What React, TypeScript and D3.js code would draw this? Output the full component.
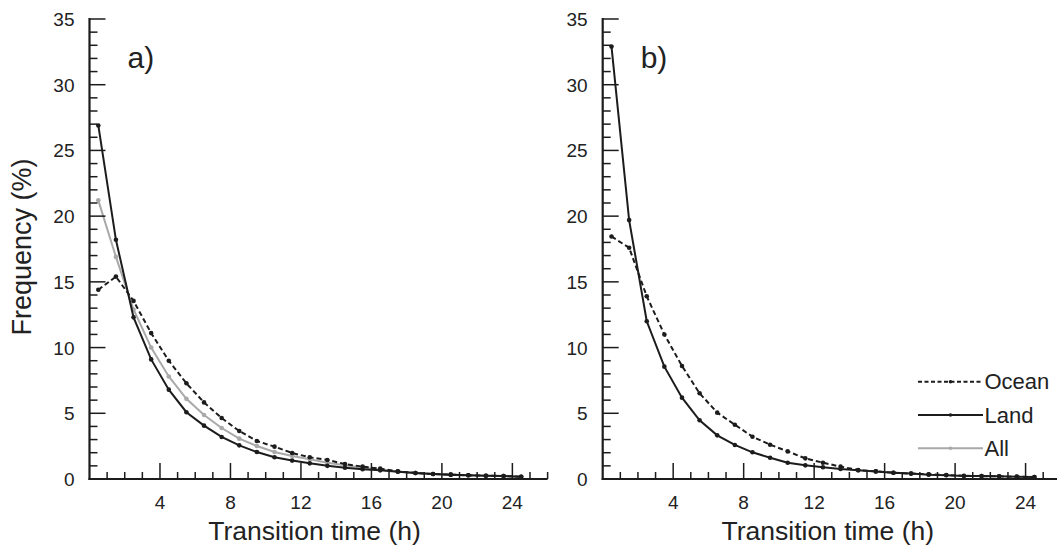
import React from "react";
import * as d3 from "d3";

const hours = [0.5, 1.5, 2.5, 3.5, 4.5, 5.5, 6.5, 7.5, 8.5, 9.5, 10.5, 11.5, 12.5, 13.5, 14.5, 15.5, 16.5, 17.5, 18.5, 19.5, 20.5, 21.5, 22.5, 23.5, 24.5];

const oceanA = [14.4, 15.4, 13.55, 11.1, 9.0, 7.28, 5.83, 4.64, 3.65, 2.89, 2.46, 1.98, 1.65, 1.45, 1.14, 0.94, 0.79, 0.58, 0.46, 0.38, 0.33, 0.28, 0.25, 0.23, 0.17];
const landA = [26.9, 18.2, 12.3, 9.1, 6.8, 5.08, 4.06, 3.2, 2.56, 2.05, 1.65, 1.4, 1.19, 1.0, 0.86, 0.74, 0.66, 0.56, 0.46, 0.38, 0.33, 0.28, 0.25, 0.23, 0.17];
const allA = [21.2, 16.9, 12.9, 10.0, 7.8, 6.1, 4.87, 3.88, 3.07, 2.51, 2.05, 1.75, 1.5, 1.24, 1.04, 0.86, 0.71, 0.57, 0.46, 0.38, 0.33, 0.28, 0.25, 0.23, 0.17];

const oceanB = [18.45, 17.6, 13.9, 11.0, 8.6, 6.52, 5.05, 4.13, 3.22, 2.61, 2.1, 1.57, 1.24, 0.94, 0.68, 0.58, 0.48, 0.41, 0.36, 0.3, 0.25, 0.22, 0.2, 0.17, 0.15];
const landB = [32.9, 19.7, 12.0, 8.55, 6.19, 4.47, 3.32, 2.59, 2.03, 1.62, 1.24, 1.04, 0.89, 0.76, 0.66, 0.58, 0.48, 0.41, 0.33, 0.28, 0.23, 0.22, 0.2, 0.18, 0.15];

const xTickLabels = [4, 8, 12, 16, 20, 24];
const yTickLabels = [0, 5, 10, 15, 20, 25, 30, 35];
const legendLabels = ["Ocean", "Land", "All"];

const FONT = "'Liberation Sans', Arial, Helvetica, sans-serif";
const BLACK = "#1c1c1c";
const GRAY = "#a9a9a9";
const DASH = "5,3";

type Series = { values: number[]; color: string; dash?: string };

function Panel({ x0, label, series }: { x0: number; label: string; series: Series[] }) {
  const x = d3.scaleLinear().domain([0, 26]).range([x0, x0 + 26 * 17.62]);
  const y = d3.scaleLinear().domain([0, 35]).range([479, 19]);
  const line = d3
    .line<number>()
    .x((_, i) => x(hours[i]))
    .y((d) => y(d));
  const minorX = d3.range(1, 27);
  const minorY = d3.range(1, 36);
  return (
    <g>
      {series.map((s, si) => (
        <g key={si}>
          <path d={line(s.values) || ""} fill="none" stroke={s.color} strokeWidth={2} strokeDasharray={s.dash} />
          {s.values.map((v, i) => (
            <circle key={i} cx={x(hours[i])} cy={y(v)} r={2.3} fill={s.color} />
          ))}
        </g>
      ))}
      {minorY.map((t) => (
        <line key={"ym" + t} x1={x(0)} x2={x(0) + (t % 5 === 0 ? 16 : 8)} y1={y(t)} y2={y(t)} stroke={BLACK} strokeWidth={1.5} />
      ))}
      {minorX.map((t) => (
        <line key={"xm" + t} x1={x(t)} x2={x(t)} y1={y(0)} y2={y(0) - (t % 4 === 0 ? 16 : 7)} stroke={BLACK} strokeWidth={1.5} />
      ))}
      <line x1={x(0)} x2={x(0)} y1={y(35) - 1} y2={y(0) + 1} stroke={BLACK} strokeWidth={2.2} />
      <line x1={x(0) - 1} x2={x(26)} y1={y(0)} y2={y(0)} stroke={BLACK} strokeWidth={2.2} />
      {yTickLabels.map((t) => (
        <text key={"yl" + t} x={x(0) - 15} y={y(t) + 7} textAnchor="end" fontSize={19} fontFamily={FONT} fill="#222">
          {t}
        </text>
      ))}
      {xTickLabels.map((t) => (
        <text key={"xl" + t} x={x(t)} y={509} textAnchor="middle" fontSize={19} fontFamily={FONT} fill="#222">
          {t}
        </text>
      ))}
      <text x={x(13) - 4} y={540} textAnchor="middle" fontSize={26.5} fontFamily={FONT} fill="#222">
        Transition time (h)
      </text>
      <text x={x(0) + 38} y={67.5} fontSize={30} fontFamily={FONT} fill="#222">
        {label}
      </text>
    </g>
  );
}

export default function App() {
  const legendY = [381.7, 415, 448.3];
  const legendStyles: Series[] = [
    { values: [], color: BLACK, dash: DASH },
    { values: [], color: BLACK },
    { values: [], color: GRAY },
  ];
  return (
    <svg width={1057} height={546} style={{ position: "absolute", left: 0, top: 0, background: "#fff" }}>
      <rect x={0} y={0} width={1057} height={546} fill="#fff" />
      <Panel
        x0={89.5}
        label="a)"
        series={[
          { values: allA, color: GRAY },
          { values: oceanA, color: BLACK, dash: DASH },
          { values: landA, color: BLACK },
        ]}
      />
      <Panel
        x0={602.7}
        label="b)"
        series={[
          { values: oceanB, color: BLACK, dash: DASH },
          { values: landB, color: BLACK },
        ]}
      />
      <text
        transform="translate(31,247) rotate(-90)"
        textAnchor="middle"
        fontSize={27}
        fontFamily={FONT}
        fill="#222"
      >
        Frequency (%)
      </text>
      {legendLabels.map((lab, i) => (
        <g key={lab}>
          <line x1={918} x2={983} y1={legendY[i]} y2={legendY[i]} stroke={legendStyles[i].color} strokeWidth={2} strokeDasharray={legendStyles[i].dash ? "4,2.5" : undefined} />
          <circle cx={950.5} cy={legendY[i]} r={1.8} fill={legendStyles[i].color} />
          <text x={984.5} y={legendY[i] + 7.5} fontSize={22} fontFamily={FONT} fill="#222">
            {lab}
          </text>
        </g>
      ))}
    </svg>
  );
}
